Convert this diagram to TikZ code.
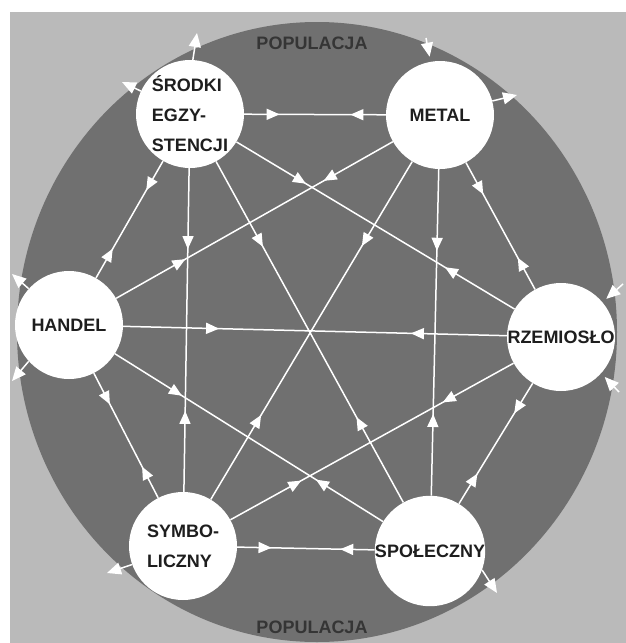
\documentclass[tikz,border=0pt]{standalone}
\usepackage{fontspec}
\setmainfont{Liberation Sans}
\usetikzlibrary{arrows.meta,decorations.markings}
\definecolor{popgray}{RGB}{112,112,112}
\definecolor{tlogray}{RGB}{186,186,186}
\definecolor{napis}{RGB}{30,30,30}

\begin{document}
\begin{tikzpicture}[x=1pt,y=-1pt,
    osrodek/.style={circle,fill=white,minimum size=108pt,inner sep=0pt,align=left,
      text=napis,font=\bfseries\fontsize{18}{30}\selectfont},
    wiez/.style={white,line width=1.5pt,postaction={decorate},decoration={markings,
      mark=at position 0.25 with {\arrow{Triangle[length=13pt,width=11pt]}},
      mark=at position 0.75 with {\arrowreversed{Triangle[length=13pt,width=11pt]}}}},
    grot/.style={white,line width=1.5pt,-{Triangle[length=14pt,width=12pt]}},
    podpis/.style={text=napis!90,font=\bfseries\fontsize{18}{20}\selectfont}]
  \useasboundingbox (0,0) rectangle (626,643);
  \fill[tlogray] (10,12) rectangle (626,643);
  \fill[popgray] (317,332) ellipse [x radius=300pt, y radius=310pt];
  \node[podpis] (pop-gora) at (312,43) {POPULACJA};
  \node[podpis] (pop-dol) at (312,627) {POPULACJA};
  % szesc osrodkow
  \node[osrodek] (srodki) at (190,114) {ŚRODKI\\EGZY-\\STENCJI};
  \node[osrodek] (metal) at (440,115) {METAL};
  \node[osrodek] (handel) at (69,325) {HANDEL};
  \node[osrodek] (rzemioslo) at (561,337) {RZEMIOSŁO};
  \node[osrodek] (symbol) at (183,546) {SYMBO-\\LICZNY};
  \node[osrodek] (spol) at (430,551) {SPOŁECZNY};
  % kazdy z kazdym
  \foreach \a/\b in {srodki/metal,srodki/handel,srodki/rzemioslo,srodki/symbol,srodki/spol,
      metal/handel,metal/rzemioslo,metal/symbol,metal/spol,handel/rzemioslo,handel/symbol,
      handel/spol,rzemioslo/symbol,rzemioslo/spol,symbol/spol}
    \draw[wiez] (\a) -- (\b);
  % wymiana z populacja
  \coordinate (sr-gora) at (197,33);
  \coordinate (sr-lewo) at (122,82);
  \coordinate (me-gora) at (426,38);
  \coordinate (me-prawo) at (517,95);
  \coordinate (ha-gora) at (12,274);
  \coordinate (ha-dol) at (12,381);
  \coordinate (rz-gora) at (623,284);
  \coordinate (rz-dol) at (619,392);
  \coordinate (sy-dol) at (107,573);
  \coordinate (sp-dol) at (497,593);
  \draw[grot] (srodki.87) -- (sr-gora);
  \draw[grot] (srodki.155) -- (sr-lewo);
  \draw[grot,shorten >=5pt] (me-gora) -- (metal.100);
  \draw[grot] (metal.15) -- (me-prawo);
  \draw[grot] (handel.138) -- (ha-gora);
  \draw[grot] (handel.222) -- (ha-dol);
  \draw[grot,shorten >=5pt] (rz-gora) -- (rzemioslo.40);
  \draw[grot,shorten >=5pt] (rz-dol) -- (rzemioslo.-42);
  \draw[grot] (symbol.200) -- (sy-dol);
  \draw[grot] (spol.-20) -- (sp-dol);
\end{tikzpicture}
\end{document}
